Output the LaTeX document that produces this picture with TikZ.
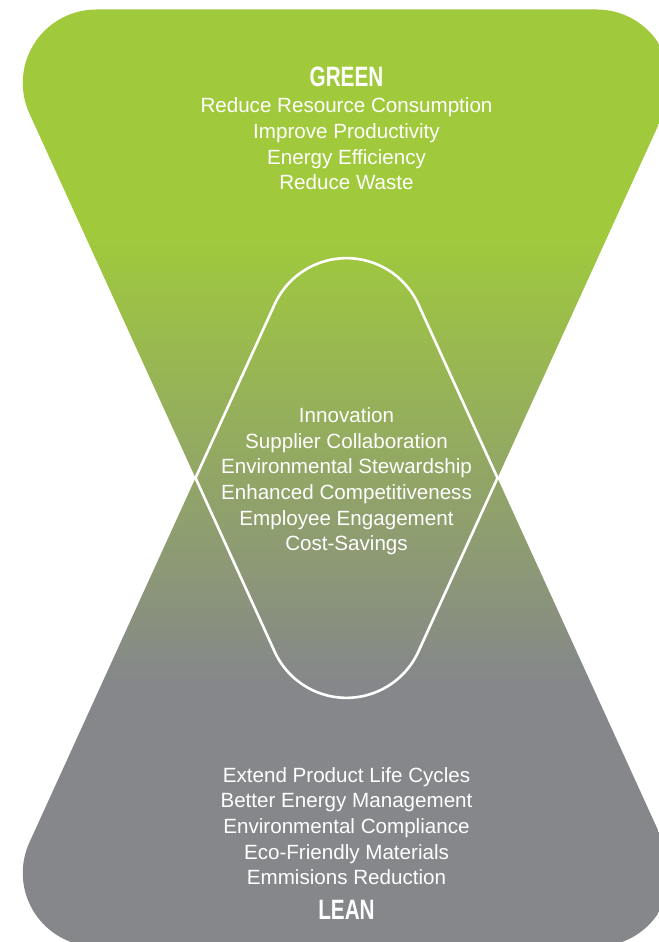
\documentclass[tikz,border=0pt]{standalone}
\usepackage{fontspec}
\newfontfamily\labelfont{Liberation Sans}
\newfontfamily\headfont[FakeStretch=0.74]{Liberation Sans}
\definecolor{gngreen}{HTML}{A0CA3C}
\definecolor{gngrey}{HTML}{85878A}
\pgfdeclareverticalshading{greenlean}{100bp}{color(0bp)=(gngrey); color(39bp)=(gngrey);
  color(63bp)=(gngreen); color(100bp)=(gngreen)}
\begin{document}
\begin{tikzpicture}[
  x=1bp, y=1bp,
  heading/.style={text=white, anchor=base, inner sep=0pt,
    font=\headfont\bfseries\fontsize{28bp}{30bp}\selectfont},
  itemlist/.style={text=white, align=center, anchor=base, inner sep=0pt,
    font=\labelfont\fontsize{20.6bp}{25.7bp}\selectfont},
  outline/.style={draw=white, line width=2.6bp}
]
\useasboundingbox (0,0) rectangle (659,942);
% corner centres of the two rounded triangles
\coordinate (gtl) at (96.26,859);
\coordinate (gtr) at (596.74,859);
\coordinate (gapex) at (346.5,323.17);
\coordinate (ltl) at (96.26,69);
\coordinate (ltr) at (596.74,69);
\coordinate (lapex) at (346.5,604.83);
\coordinate (wl) at (195.5,464);
\coordinate (wr) at (497.5,464);
\begin{scope}
\clip (0,0) rectangle (659,942);
\shade[shading=greenlean]
  % green triangle
  ([shift={(204.5:73.5)}]gtl) arc[start angle=204.5, end angle=90, radius=73.5]
  -- ([shift={(90:73.5)}]gtr) arc[start angle=90, end angle=-24.5, radius=73.5]
  -- ([shift={(-24.5:79)}]gapex) arc[start angle=-24.5, end angle=-155.5, radius=79]
  -- cycle
  % lean triangle
  ([shift={(270:73.5)}]ltl) arc[start angle=270, end angle=155.5, radius=73.5]
  -- ([shift={(155.5:79)}]lapex) arc[start angle=155.5, end angle=24.5, radius=79]
  -- ([shift={(24.5:73.5)}]ltr) arc[start angle=24.5, end angle=-90, radius=73.5]
  -- cycle;
\end{scope}
% overlap of the two
\draw[outline] (wl) -- ([shift={(155.5:79)}]lapex) arc[start angle=155.5, end angle=24.5, radius=79]
  -- (wr) -- ([shift={(-24.5:79)}]gapex) arc[start angle=-24.5, end angle=-155.5, radius=79] -- cycle;
% base anchor sits on the last line
\node[heading] (green) at (346.5,855) {GREEN};
\node[itemlist] (greenlist) at (346.5,752) {Reduce Resource Consumption\\Improve Productivity\\Energy Efficiency\\Reduce Waste};
\node[itemlist] (shared) at (346.5,391) {Innovation\\Supplier Collaboration\\Environmental Stewardship\\Enhanced Competitiveness\\Employee Engagement\\Cost-Savings};
\node[itemlist] (leanlist) at (346.5,57) {Extend Product Life Cycles\\Better Energy Management\\Environmental Compliance\\Eco-Friendly Materials\\Emmisions Reduction};
\node[heading] (lean) at (346.5,22) {LEAN};
\end{tikzpicture}
\end{document}
